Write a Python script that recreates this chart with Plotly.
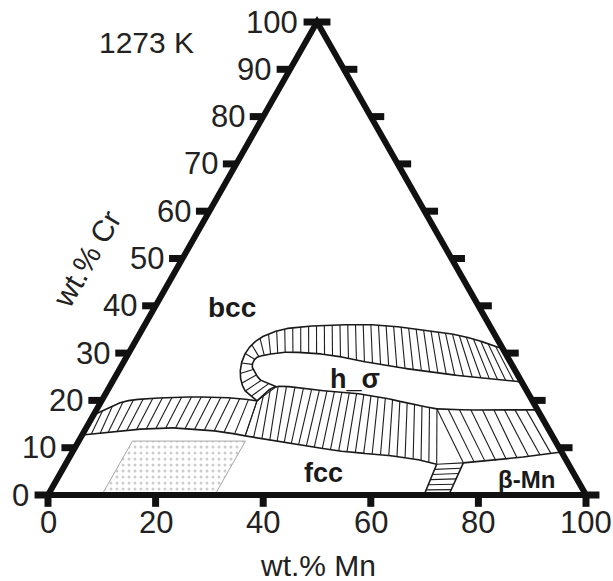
import numpy as np
import plotly.graph_objects as go

# ---- canvas / scale -------------------------------------------------------
W, H = 613, 581
X0_PX, Y0_PX = 48, 495      # pixel position of the Fe corner (Mn = 0, Cr = 0)
PX_X, PX_Y = 5.38, 4.73     # pixels per composition unit (horizontal, vertical)

# ---- axes -----------------------------------------------------------------
mn_ticks = [0, 20, 40, 60, 80, 100]
cr_ticks = list(range(0, 101, 10))

# ---- phase boundaries (wt.% Mn, wt.% Cr) ----------------------------------
# Each two-phase field is given by matching tie-line ends on its two sides.
bcc_fcc__fcc = [(0.0, 12.7), (3.1, 13.1), (6.1, 13.5), (15.0, 14.2), (24.6, 13.5), (30.4, 12.5)]
bcc_fcc__bcc = [(0.0, 16.9), (2.5, 18.8), (5.8, 20.1), (14.7, 20.7), (24.1, 20.5), (28.9, 19.9)]

sig_fcc__fcc = [(30.4, 12.5), (35.1, 11.6), (41.6, 10.6), (49.6, 9.3), (57.5, 8.5), (63.4, 7.8), (69.0, 6.5)]
sig_fcc__sig = [(28.9, 19.9), (31.0, 22.9), (38.2, 22.2), (45.4, 21.6), (52.4, 20.5), (58.0, 19.2), (63.2, 18.2)]

bcc_sig__bcc = [(28.9, 19.9), (25.9, 21.8), (23.7, 24.3), (22.2, 27.3), (21.7, 30.2), (22.3, 32.4),
                (23.9, 34.0), (27.3, 35.3), (34.4, 35.9), (43.7, 35.9), (55.1, 34.5), (61.8, 33.2),
                (69.1, 30.9)]
bcc_sig__sig = [(31.0, 22.9), (27.7, 24.1), (25.6, 25.8), (24.3, 27.3), (24.1, 28.8), (24.9, 29.4),
                (26.4, 29.8), (29.9, 30.2), (37.6, 29.6), (48.3, 27.5), (61.0, 25.6), (68.9, 24.7),
                (76.1, 23.9)]

sig_bmn__bmn = [(73.8, 6.8), (78.6, 7.2), (82.9, 7.8), (87.2, 8.5), (90.9, 9.1)]
sig_bmn__sig = [(63.2, 18.2), (68.5, 18.0), (73.5, 18.0), (77.8, 18.0), (82.0, 18.0)]

fcc_bmn__fcc = [(69.0, 6.5), (69.9, 0.0)]
fcc_bmn__bmn = [(73.8, 6.8), (74.5, 0.0)]

# studied composition window (wt.% Mn, wt.% Cr)
window_mn = [10.0, 31.0, 31.0, 10.0]
window_cr = [0.0, 0.0, 11.4, 11.4]


def to_xy(pts):
    a = np.asarray(pts, float)
    return np.column_stack([a[:, 0] + a[:, 1] / 2.0, a[:, 1]])


def catmull(P, t):
    n = len(P)
    ext = np.vstack([2 * P[0] - P[1], P, 2 * P[-1] - P[-2]])
    i = np.clip(np.floor(t).astype(int), 0, n - 2)
    u = (t - i)[:, None]
    p0, p1, p2, p3 = ext[i], ext[i + 1], ext[i + 2], ext[i + 3]
    return 0.5 * (2 * p1 + (p2 - p0) * u + (2 * p0 - 5 * p1 + 4 * p2 - p3) * u ** 2
                  + (3 * p1 - p0 - 3 * p2 + p3) * u ** 3)


def field(side_a, side_b, spacing_px):
    A, B = to_xy(side_a), to_xy(side_b)
    t = np.linspace(0, len(A) - 1, 1500)
    a, b = catmull(A, t), catmull(B, t)
    mid = (a + b) / 2 * np.array([PX_X, PX_Y])
    s = np.concatenate([[0.0], np.cumsum(np.hypot(*np.diff(mid, axis=0).T))])
    k = max(1, int(round(s[-1] / spacing_px)))
    tk = np.interp(np.linspace(0, s[-1], k + 1), s, t)
    return a, b, catmull(A, tk), catmull(B, tk)


fields = [
    (bcc_fcc__fcc, bcc_fcc__bcc, 9.5),
    (sig_fcc__fcc, sig_fcc__sig, 8.0),
    (bcc_sig__bcc, bcc_sig__sig, 8.0),
    (sig_bmn__bmn, sig_bmn__sig, 10.5),
    (fcc_bmn__fcc, fcc_bmn__bmn, 6.0),
]

bx, by, hx, hy = [], [], [], []
for sa, sb, sp in fields:
    a, b, ta, tb = field(sa, sb, sp)
    for c in (a, b):
        bx += list(c[:, 0]) + [None]
        by += list(c[:, 1]) + [None]
    for p, q in zip(ta, tb):
        hx += [p[0], q[0], None]
        hy += [p[1], q[1], None]

fig = go.Figure()

win = to_xy(list(zip(window_mn, window_cr)))
fig.add_trace(go.Scatter(
    x=list(win[:, 0]) + [win[0, 0]], y=list(win[:, 1]) + [win[0, 1]],
    mode="lines", fill="toself", line=dict(color="#a8a8a8", width=1),
    fillcolor="white",
    fillpattern=dict(shape=".", fgcolor="#9a9a9a", bgcolor="white", size=6, solidity=0.2),
    hoverinfo="skip", showlegend=False))

fig.add_trace(go.Scatter(x=hx, y=hy, mode="lines", line=dict(color="#1e1e1e", width=1.1),
                         hoverinfo="skip", showlegend=False))
fig.add_trace(go.Scatter(x=bx, y=by, mode="lines", line=dict(color="#1a1a1a", width=1.6),
                         hoverinfo="skip", showlegend=False))

# triangle frame
fig.add_shape(type="path", path="M 0 0 L 100 0 L 50 100 Z", xref="x", yref="y",
              line=dict(color="#111", width=6))

TICK_X = 2.5                      # horizontal tick length (composition units)
TICK_Y = 2.5                      # downward tick length on the Mn axis
FONT = "Liberation Sans, Arial, sans-serif"
TICK_FONT = 31
TITLE_FONT = 30

for m in mn_ticks:
    fig.add_shape(type="line", x0=m, x1=m, y0=0, y1=-TICK_Y, xref="x", yref="y",
                  line=dict(color="#111", width=7))
    fig.add_annotation(x=m, y=-5.9, text=str(m), showarrow=False, xanchor="center",
                       yanchor="middle", font=dict(size=TICK_FONT, color="#222", family=FONT))

for c in cr_ticks:
    xl = c / 2.0
    xr = 100 - c / 2.0
    fig.add_shape(type="line", x0=xl - TICK_X, x1=xl, y0=c, y1=c, xref="x", yref="y",
                  line=dict(color="#111", width=7))
    fig.add_shape(type="line", x0=xr, x1=xr + TICK_X, y0=c, y1=c, xref="x", yref="y",
                  line=dict(color="#111", width=7))
    fig.add_annotation(x=xl - TICK_X - 0.6, y=c, text=str(c), showarrow=False,
                       xanchor="right", yanchor="middle",
                       font=dict(size=TICK_FONT, color="#222", family=FONT))

fig.add_annotation(x=50.2, y=-15.0, text="wt.% Mn", showarrow=False,
                   font=dict(size=TITLE_FONT, color="#222", family=FONT))
fig.add_annotation(x=7.3, y=49.9, text="wt.% Cr", showarrow=False, textangle=-60,
                   font=dict(size=TITLE_FONT, color="#222", family=FONT))
fig.add_annotation(x=18.4, y=95.6, text="1273 K", showarrow=False,
                   font=dict(size=TITLE_FONT, color="#222", family=FONT))

phase_labels = [("bcc", 34.2, 39.7, 28), ("h_σ", 57.1, 24.5, 27),
                ("fcc", 51.3, 4.7, 27), ("β-Mn", 89.0, 3.2, 24)]
for txt, x, y, sz in phase_labels:
    fig.add_annotation(x=x, y=y, text=f"<b>{txt}</b>", showarrow=False,
                       font=dict(size=sz, color="#1a1a1a", family=FONT))

fig.update_layout(
    width=W, height=H, autosize=False,
    margin=dict(l=0, r=0, t=0, b=0),
    paper_bgcolor="white", plot_bgcolor="white",
    xaxis=dict(range=[-X0_PX / PX_X, (W - X0_PX) / PX_X], visible=False),
    yaxis=dict(range=[-(H - Y0_PX) / PX_Y, Y0_PX / PX_Y], visible=False),
)

fig.write_html("out.html")
